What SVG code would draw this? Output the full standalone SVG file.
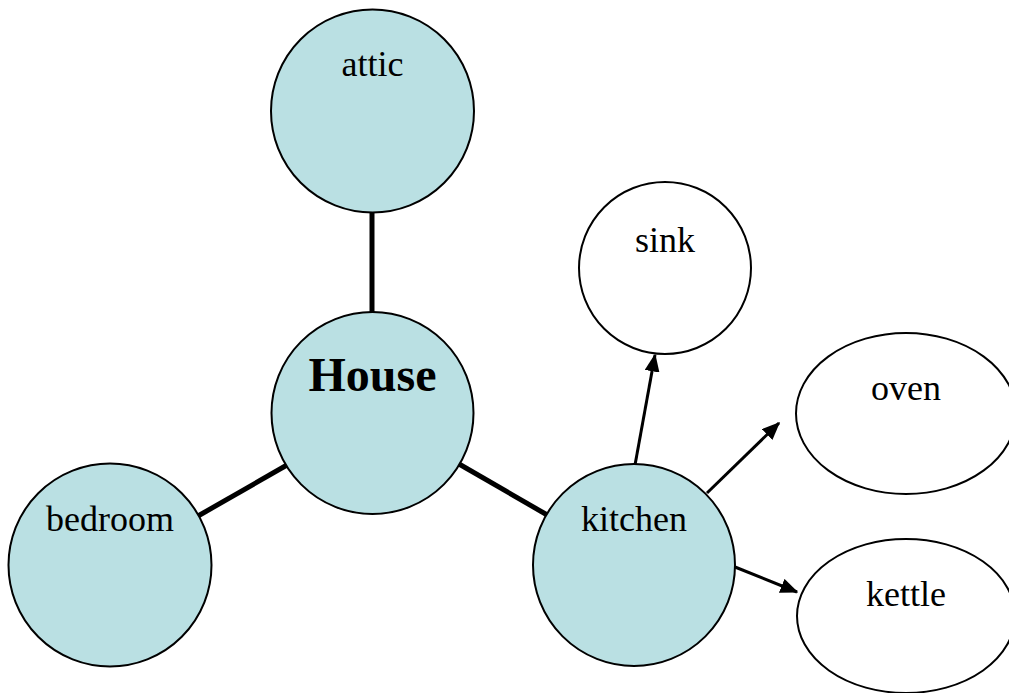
<svg xmlns="http://www.w3.org/2000/svg" width="1009" height="693" viewBox="0 0 1009 693">
<defs>
<style>
.room{fill:#BAE0E3;stroke:#000;stroke-width:2}
.item{fill:#fff;stroke:#000;stroke-width:2}
.lbl{font-family:"Liberation Serif","Times New Roman",serif;font-size:36px;fill:#000;text-anchor:middle}
.big{font-size:48px;font-weight:bold}
.thick{stroke:#000;stroke-width:5;fill:none}
.arr{stroke:#000;stroke-width:3;fill:none;marker-end:url(#ah)}
</style>
<marker id="ah" markerWidth="6" markerHeight="5" refX="5.5" refY="2.5" orient="auto" markerUnits="strokeWidth">
<path d="M0,0 L6,2.5 L0,5 Z" fill="#000"/>
</marker>
</defs>
<g id="connectors">
<line class="thick" x1="372" y1="212" x2="372" y2="313"/>
<line class="thick" x1="287" y1="465" x2="198" y2="516"/>
<line class="thick" x1="459" y1="464" x2="549" y2="516"/>
<line class="arr" x1="635" y1="465" x2="655" y2="355"/>
<line class="arr" x1="707" y1="493" x2="779" y2="423"/>
<line class="arr" x1="735" y1="567" x2="797" y2="592"/>
</g>
<g id="attic"><circle class="room" cx="372.5" cy="111" r="101.5"/><text class="lbl" x="372.5" y="76">attic</text></g>
<g id="house"><circle class="room" cx="372.5" cy="413" r="101"/><text class="lbl big" x="372.5" y="391">House</text></g>
<g id="bedroom"><circle class="room" cx="110" cy="565" r="101.5"/><text class="lbl" x="110" y="531">bedroom</text></g>
<g id="kitchen"><circle class="room" cx="634" cy="565" r="101"/><text class="lbl" x="634" y="531">kitchen</text></g>
<g id="sink"><circle class="item" cx="665" cy="268" r="86"/><text class="lbl" x="665" y="252">sink</text></g>
<g id="oven"><ellipse class="item" cx="906" cy="413.5" rx="110" ry="80.5"/><text class="lbl" x="906" y="400">oven</text></g>
<g id="kettle"><ellipse class="item" cx="906" cy="616" rx="109" ry="77"/><text class="lbl" x="906" y="606">kettle</text></g>
</svg>
